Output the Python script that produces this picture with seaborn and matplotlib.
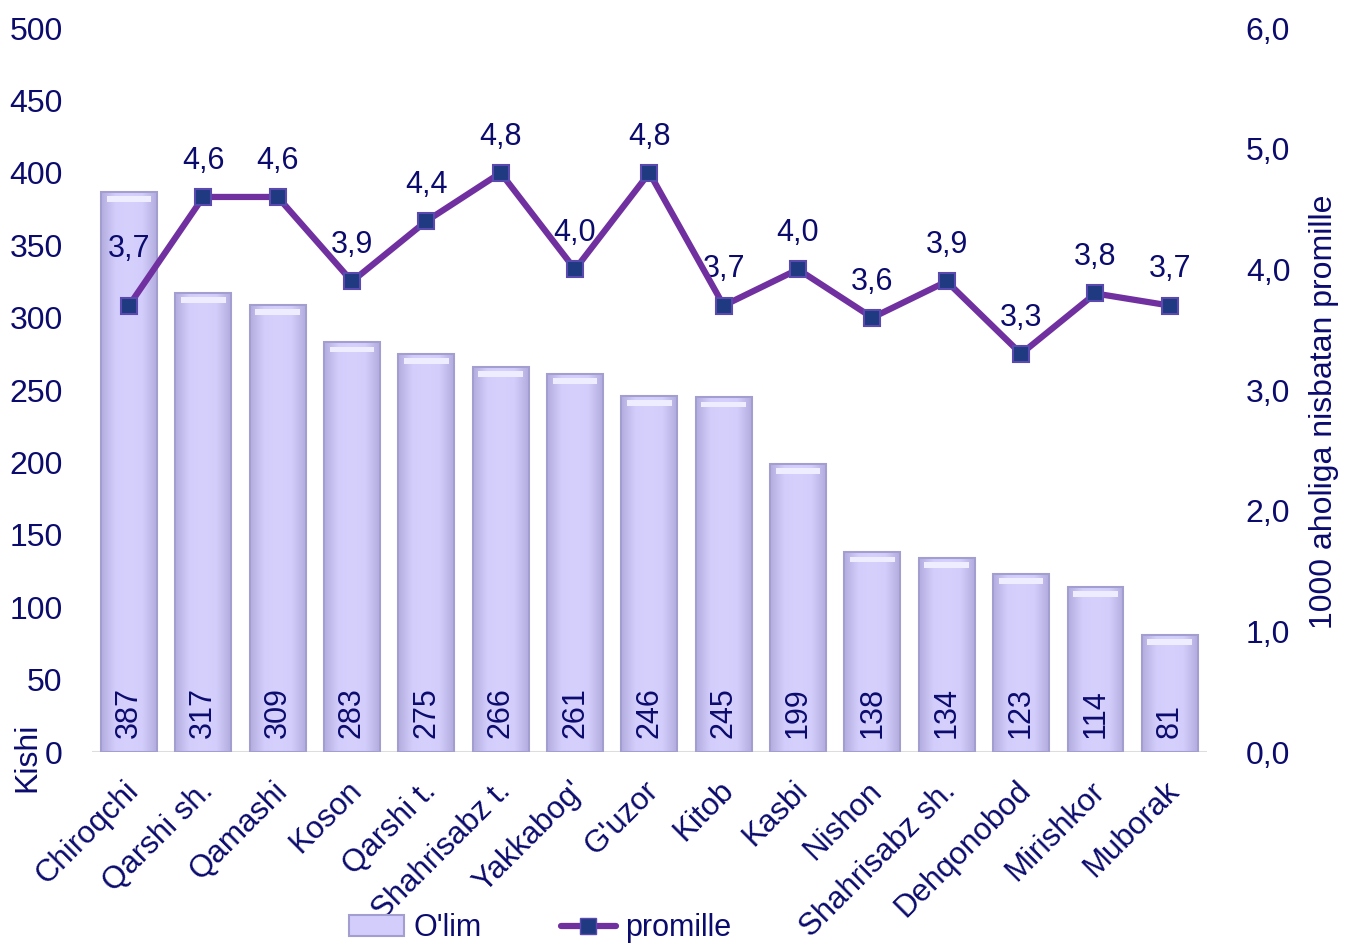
import matplotlib
matplotlib.use("Agg")
import matplotlib.pyplot as plt
import seaborn as sns
import pandas as pd
import numpy as np
from matplotlib.lines import Line2D
from matplotlib.patches import Patch
from matplotlib.colors import LinearSegmentedColormap
import matplotlib.transforms as mtransforms

categories = ["Chiroqchi", "Qarshi sh.", "Qamashi", "Koson", "Qarshi t.", "Shahrisabz t.",
              "Yakkabog'", "G'uzor", "Kitob", "Kasbi", "Nishon", "Shahrisabz sh.",
              "Dehqonobod", "Mirishkor", "Muborak"]
deaths = [387, 317, 309, 283, 275, 266, 261, 246, 245, 199, 138, 134, 123, 114, 81]
promille = [3.7, 4.6, 4.6, 3.9, 4.4, 4.8, 4.0, 4.8, 3.7, 4.0, 3.6, 3.9, 3.3, 3.8, 3.7]
left_ticks = list(range(0, 501, 50))
right_ticks = [0.0, 1.0, 2.0, 3.0, 4.0, 5.0, 6.0]

sns.set_theme(style="white")
plt.rcParams['font.family'] = ['Liberation Sans', 'DejaVu Sans']
navy = "#0B0B6E"
purple = "#7030A0"
bar_fill = "#D3CDFB"

df = pd.DataFrame({"cat": categories, "deaths": deaths, "promille": promille})

fig = plt.figure(figsize=(13.5, 9.5), dpi=100)
ax = fig.add_axes([0.068, 0.2084, 0.826, 0.7621])
sns.barplot(data=df, x="cat", y="deaths", ax=ax, color=bar_fill, width=0.75,
            edgecolor="#A39ED0", linewidth=1.5, saturation=1)
ax.set_ylim(0, 500)
ax.set_xlim(-0.5, len(categories) - 0.5)

# bevel-like shading inside bars
cmap = LinearSegmentedColormap.from_list("bev", ["#B3ADE0", "#D3CDFB", "#D6D0FD", "#D3CDFB", "#B3ADE0"])
grad = np.linspace(0, 1, 64).reshape(1, -1)
for p in list(ax.patches):
    x0 = p.get_x(); w = p.get_width(); h = p.get_height()
    im = ax.imshow(grad, extent=(x0, x0 + w, 0, h), aspect='auto', cmap=cmap,
                   zorder=p.get_zorder() + 0.05, interpolation='bicubic')
    im.set_clip_path(p)
    ax.add_patch(plt.Rectangle((x0 + w * 0.1, h - 7), w * 0.8, 4, color="#EEECFF",
                               lw=0, zorder=p.get_zorder() + 0.1))
    p.set_zorder(p.get_zorder() + 0.2)
    p.set_facecolor("none")
ax.set_xlim(-0.5, len(categories) - 0.5)
ax.set_ylim(0, 500)

ax.set_yticks(left_ticks)
ax.set_yticklabels([str(t) for t in left_ticks], fontsize=23, color=navy)
ax.tick_params(axis='y', length=0, pad=21)
ax.tick_params(axis='x', length=0, pad=0)
ax.set_xticks(range(len(categories)))
ax.set_xticklabels(categories, rotation=45, ha='right', rotation_mode='anchor',
                   fontsize=22.5, color=navy)
offset = mtransforms.ScaledTranslation(-4 / 72, -17 / 72, fig.dpi_scale_trans)
for lab in ax.get_xticklabels():
    lab.set_transform(lab.get_transform() + offset)
ax.set_xlabel("")
ax.set_ylabel("")
for s in ax.spines.values():
    s.set_visible(False)
ax.axhline(0, color="#DDDDDD", lw=1.5, zorder=0)

for i, v in enumerate(deaths):
    ax.annotate(str(v), (i, 0), xytext=(0, 10), textcoords='offset points',
                rotation=90, ha='center', va='bottom', fontsize=22, color=navy, zorder=10)

fig.text(0.020, 0.203, "Kishi", rotation=90, fontsize=23, color=navy, ha='center', va='center')

ax2 = ax.twinx()
ax2.plot(range(len(categories)), promille, color=purple, lw=4.5, marker='s', markersize=11,
         markerfacecolor="#1F3A80", markeredgecolor="#5A4AB0", markeredgewidth=1.5, zorder=5)
ax2.set_ylim(0, 6)
ax2.set_yticks(right_ticks)
ax2.set_yticklabels([f"{t:.1f}".replace('.', ',') for t in right_ticks], fontsize=23, color=navy)
ax2.tick_params(axis='y', length=0, pad=28)
for s in ax2.spines.values():
    s.set_visible(False)
ax2.grid(False)
ax2.set_ylabel("1000 aholiga nisbatan promille", fontsize=23, color=navy, labelpad=8)
ax2.yaxis.set_label_coords(1.092, 0.47)

for i, v in enumerate(promille):
    off = 41 if i == 0 else 26
    ax2.annotate(f"{v:.1f}".replace('.', ','), (i, v), xytext=(0, off), textcoords='offset points',
                 ha='center', va='center', fontsize=22, color=navy)

handles = [Patch(facecolor=bar_fill, edgecolor="#A39ED0", linewidth=1.5),
           Line2D([0], [0], color=purple, lw=4.5, marker='s', markersize=11,
                  markerfacecolor="#1F3A80", markeredgecolor="#5A4AB0")]
fig.legend(handles, ["O'lim", "promille"], loc='lower center', bbox_to_anchor=(0.40, -0.022),
           ncol=2, frameon=False, fontsize=22, labelcolor=navy, columnspacing=2.6,
           handlelength=1.8, handletextpad=0.3)

fig.savefig("out.png", dpi=100)
